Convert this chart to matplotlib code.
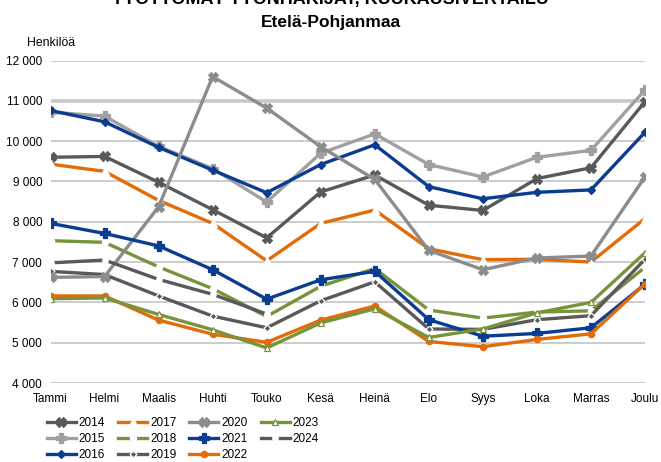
import matplotlib
matplotlib.use("Agg")
import matplotlib.pyplot as plt
from matplotlib.ticker import FuncFormatter, MultipleLocator

plt.rcParams["font.family"] = ["Liberation Sans", "DejaVu Sans"]

months = ["Tammi", "Helmi", "Maalis", "Huhti", "Touko", "Kesä", "Heinä",
          "Elo", "Syys", "Loka", "Marras", "Joulu"]

y2014 = [9600, 9620, 8980, 8300, 7600, 8740, 9160, 8410, 8280, 9070, 9340, 10980]
y2015 = [10720, 10620, 9870, 9320, 8490, 9700, 10180, 9420, 9110, 9600, 9770, 11270]
y2016 = [10760, 10480, 9845, 9280, 8720, 9420, 9910, 8870, 8570, 8730, 8790, 10220]
y2017 = [9430, 9250, 8530, 7960, 7030, 7960, 8290, 7330, 7060, 7070, 7000, 8080]
y2018 = [7530, 7490, 6880, 6340, 5650, 6400, 6840, 5810, 5610, 5760, 5790, 6870]
y2019 = [6770, 6690, 6160, 5660, 5370, 6040, 6510, 5340, 5330, 5570, 5670, 7070]
y2020 = [6620, 6640, 8370, 11600, 10820, 9860, 9050, 7290, 6810, 7100, 7150, 9110]
y2021 = [7960, 7710, 7400, 6810, 6080, 6560, 6770, 5570, 5160, 5230, 5370, 6450]
y2022 = [6160, 6160, 5560, 5210, 5010, 5560, 5910, 5030, 4900, 5080, 5220, 6460]
y2023 = [6090, 6110, 5700, 5320, 4870, 5490, 5840, 5130, 5340, 5740, 6000, 7230]
y2024 = [6980, 7050, 6570, 6200, 5710]

DGRAY = "#595959"; LGRAY = "#a0a0a0"; MGRAY = "#8c8c8c"
BLUE = "#0a3d91"; ORANGE = "#e36c09"; GREEN = "#77933c"

# year, data, colour, marker, marker size, face, edge
series = [
    ("2014", y2014, DGRAY, "X", 7, DGRAY, DGRAY),
    ("2015", y2015, LGRAY, "P", 7, LGRAY, LGRAY),
    ("2016", y2016, BLUE, "D", 4.5, BLUE, BLUE),
    ("2017", y2017, ORANGE, "^", 5.5, "white", "white"),
    ("2018", y2018, GREEN, "o", 4.5, "white", "white"),
    ("2019", y2019, DGRAY, "D", 3.5, DGRAY, "white"),
    ("2020", y2020, MGRAY, "X", 7, MGRAY, MGRAY),
    ("2021", y2021, BLUE, "P", 7, BLUE, BLUE),
    ("2022", y2022, ORANGE, "o", 4.5, ORANGE, ORANGE),
    ("2023", y2023, GREEN, "^", 5, "white", GREEN),
    ("2024", y2024, DGRAY, "o", 4, "white", "white"),
]

fig = plt.figure(figsize=(6.61, 4.62), dpi=100, facecolor="white")
ax = fig.add_axes([50.5 / 661, 1 - 383 / 462, (645 - 50.5) / 661, (383 - 60.5) / 462])

for v in range(4000, 12001, 1000):
    ax.axhline(v, color="#c8c8c8" if v == 11000 else "#bfbfbf",
               lw=2.6 if v == 11000 else 1.1, zorder=0)

for name, vals, c, m, ms, mfc, mec in series:
    ax.plot(range(len(vals)), vals, color=c, lw=2.4, marker=m, ms=ms,
            mfc=mfc, mec=mec, mew=0.9, label=name, zorder=3)

ax.set_xlim(0, 11)
ax.set_ylim(4000, 12000)
ax.set_xticks(range(12))
ax.set_xticklabels(months)
ax.yaxis.set_major_locator(MultipleLocator(1000))
ax.yaxis.set_major_formatter(FuncFormatter(lambda v, p: f"{int(v):,}".replace(",", " ")))
ax.tick_params(length=0, colors="black")
ax.tick_params(axis="x", pad=7, labelsize=8.5)
ax.tick_params(axis="y", pad=6, labelsize=8.5)
for s in ax.spines.values():
    s.set_visible(False)

fig.text(0.5, 1.003, "TYÖTTÖMÄT TYÖNHAKIJAT, KUUKAUSIVERTAILU", ha="center", va="center",
         fontsize=13, weight="bold")
fig.text(0.5, 1 - 22 / 462, "Etelä-Pohjanmaa", ha="center", va="center",
         fontsize=12.5, weight="bold")
fig.text(27 / 661, 1 - 43 / 462, "Henkilöä", ha="left", va="center", fontsize=8.8)

leg = fig.legend(ncol=4, loc="upper left", bbox_to_anchor=(47 / 661, 1 - 417 / 462),
                 frameon=False, fontsize=8.5, handlelength=2.45, handletextpad=0.25,
                 columnspacing=1.1, labelspacing=0.36, borderaxespad=0, borderpad=0)

fig.savefig("out.png", dpi=100, facecolor="white")
